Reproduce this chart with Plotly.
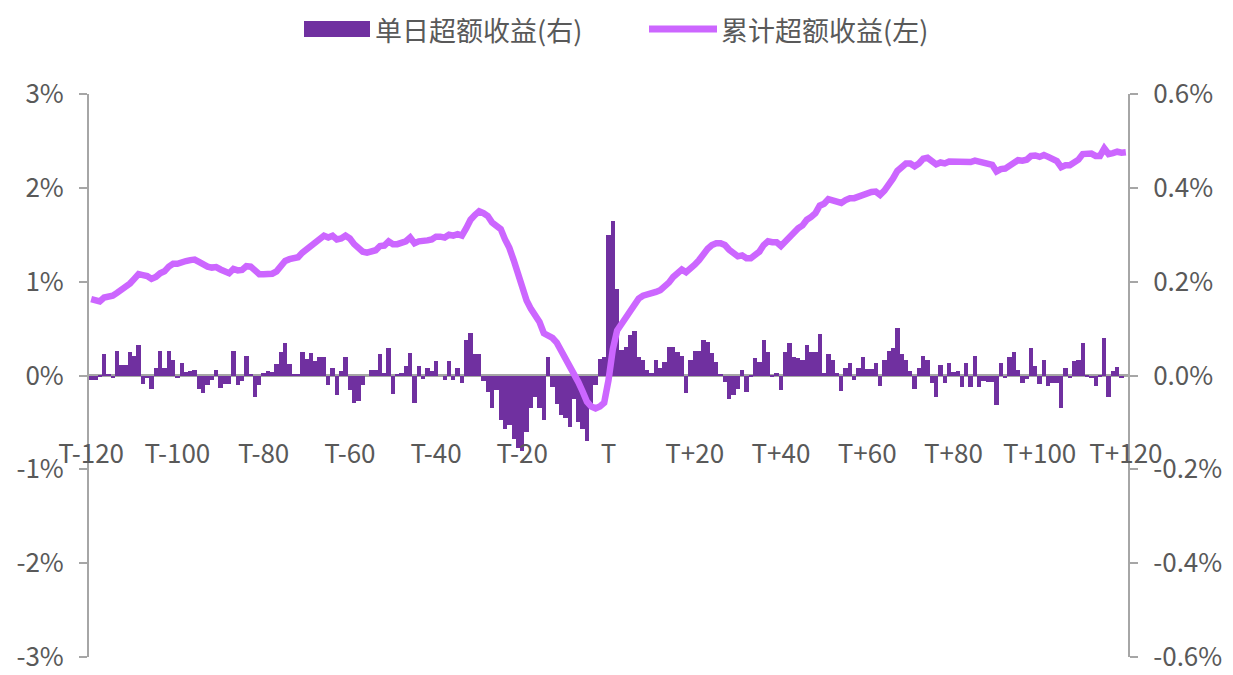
import plotly.graph_objects as go

# ---- data (percent units) ----
days = list(range(-120, 121))

daily_excess = [
    -0.009, -0.009, -0.002, 0.045, 0.002, -0.005, 0.053, 0.022, 0.023, 0.05,
    0.041, 0.065, -0.019, -0.006, -0.028, 0.015, 0.052, 0.015, 0.052, 0.033,
    -0.006, 0.026, 0.008, 0.01, 0.011, -0.028, -0.038, -0.02, -0.01, 0.011,
    -0.026, -0.018, -0.018, 0.052, -0.02, -0.012, 0.042, 0.003, -0.045, -0.02,
    0.005, 0.01, 0.008, 0.025, 0.05, 0.07, 0.025, 0.003, 0.003, 0.05,
    0.035, 0.047, 0.03, 0.04, 0.04, -0.02, 0.017, -0.042, 0.01, 0.04,
    -0.03, -0.058, -0.055, -0.02, 0.0, 0.012, 0.012, 0.045, 0.005, 0.058,
    -0.04, 0.003, 0.005, 0.02, 0.047, -0.058, 0.02, -0.008, 0.015, 0.01,
    0.03, 0.0, -0.009, 0.03, -0.01, 0.015, -0.016, 0.075, 0.09, 0.045,
    0.045, -0.012, -0.035, -0.07, -0.03, -0.095, -0.115, -0.105, -0.135, -0.155,
    -0.16, -0.12, -0.07, -0.045, -0.07, -0.095, 0.04, -0.025, -0.06, -0.085,
    -0.09, -0.11, -0.05, -0.1, -0.115, -0.14, -0.06, -0.02, 0.035, 0.04,
    0.30, 0.33, 0.185, 0.055, 0.061, 0.086, 0.095, 0.04, 0.033, 0.011,
    0.006, 0.033, 0.015, 0.029, 0.06, 0.061, 0.05, 0.041, -0.038, 0.033,
    0.053, 0.053, 0.075, 0.072, 0.047, 0.029, 0.002, -0.013, -0.051, -0.042,
    -0.028, 0.011, -0.035, -0.004, 0.038, 0.029, 0.075, 0.05, -0.004, 0.005,
    -0.03, 0.051, 0.07, 0.04, 0.038, 0.033, 0.066, 0.051, 0.051, 0.088,
    0.005, 0.046, 0.033, 0.005, -0.034, 0.017, 0.026, -0.01, 0.015, 0.039,
    0.013, 0.013, 0.026, -0.022, 0.034, 0.052, 0.058, 0.102, 0.045, 0.034,
    0.01, -0.029, 0.015, 0.042, 0.033, -0.017, -0.045, 0.022, -0.017, 0.026,
    0.008, 0.01, -0.025, 0.026, -0.025, 0.042, -0.025, -0.011, -0.013, -0.013,
    -0.063, 0.026, -0.006, 0.04, 0.05, 0.012, -0.015, -0.008, 0.059, 0.02,
    -0.018, 0.033, -0.022, -0.017, -0.017, -0.069, 0.015, -0.006, 0.03, 0.033,
    0.07, -0.003, -0.006, -0.022, -0.003, 0.079, -0.045, 0.01, 0.019, -0.006,
    0.0,
]

cumulative_excess = [
    0.815, 0.80, 0.79, 0.83, 0.84, 0.85, 0.88, 0.91, 0.93, 0.98,
    1.03, 1.08, 1.07, 1.06, 1.03, 1.05, 1.09, 1.11, 1.16, 1.19,
    1.19, 1.21, 1.22, 1.23, 1.235, 1.21, 1.18, 1.16, 1.15, 1.155,
    1.13, 1.11, 1.09, 1.135, 1.12, 1.125, 1.165, 1.16, 1.11, 1.08,
    1.08, 1.08, 1.085, 1.11, 1.16, 1.22, 1.24, 1.25, 1.26, 1.31,
    1.35, 1.39, 1.42, 1.46, 1.49, 1.47, 1.49, 1.45, 1.46, 1.49,
    1.46, 1.40, 1.35, 1.32, 1.31, 1.32, 1.335, 1.38, 1.385, 1.43,
    1.40, 1.40, 1.41, 1.43, 1.47, 1.41, 1.43, 1.43, 1.44, 1.45,
    1.48, 1.48, 1.47, 1.50, 1.49, 1.505, 1.49, 1.57, 1.66, 1.71,
    1.75, 1.73, 1.70, 1.63, 1.60, 1.56, 1.45, 1.36, 1.23, 1.08,
    0.93, 0.80, 0.71, 0.64, 0.57, 0.45, 0.43, 0.40, 0.35, 0.27,
    0.19, 0.08, 0.03, -0.07, -0.17, -0.28, -0.33, -0.35, -0.33, -0.29,
    -0.05, 0.28, 0.48, 0.55, 0.62, 0.70, 0.78, 0.82, 0.85, 0.86,
    0.87, 0.89, 0.91, 0.94, 0.99, 1.05, 1.09, 1.13, 1.10, 1.13,
    1.18, 1.23, 1.30, 1.35, 1.39, 1.41, 1.41, 1.39, 1.34, 1.30,
    1.27, 1.28, 1.25, 1.25, 1.29, 1.32, 1.39, 1.43, 1.42, 1.42,
    1.38, 1.43, 1.48, 1.53, 1.57, 1.60, 1.66, 1.69, 1.73, 1.81,
    1.83, 1.88, 1.87, 1.85, 1.84, 1.87, 1.89, 1.89, 1.91, 1.93,
    1.94, 1.955, 1.96, 1.925, 1.97, 2.03, 2.10, 2.18, 2.23, 2.26,
    2.26, 2.23, 2.26, 2.31, 2.32, 2.28, 2.25, 2.27, 2.26, 2.28,
    2.28, 2.27, 2.265, 2.28, 2.275, 2.29, 2.275, 2.27, 2.26, 2.245,
    2.175, 2.20, 2.205, 2.24, 2.28, 2.295, 2.29, 2.30, 2.34, 2.345,
    2.33, 2.35, 2.33, 2.30, 2.285, 2.22, 2.24, 2.24, 2.27, 2.30,
    2.36, 2.37, 2.365, 2.34, 2.34, 2.42, 2.36, 2.37, 2.385, 2.375,
    2.38,
]

x_tick_vals = [-120, -100, -80, -60, -40, -20, 0, 20, 40, 60, 80, 100, 120]
x_tick_text = ["T-120", "T-100", "T-80", "T-60", "T-40", "T-20", "T",
               "T+20", "T+40", "T+60", "T+80", "T+100", "T+120"]
left_tick_vals = [-3, -2, -1, 0, 1, 2, 3]
left_tick_text = ["-3%", "-2%", "-1%", "0%", "1%", "2%", "3%"]
right_tick_vals = [-0.6, -0.4, -0.2, 0.0, 0.2, 0.4, 0.6]
right_tick_text = ["-0.6%", "-0.4%", "-0.2%", "0.0%", "0.2%", "0.4%", "0.6%"]

bar_name = "单日超额收益(右)"
line_name = "累计超额收益(左)"

BAR_COLOR = "#7030A0"
LINE_COLOR = "#CC66FF"
AXIS_COLOR = "#A6A6A6"
TEXT_COLOR = "#595959"
FONT = "Noto Sans CJK SC"

fig = go.Figure()
fig.add_trace(go.Bar(x=days, y=daily_excess, name=bar_name, marker_color=BAR_COLOR,
                     marker_line_width=0, yaxis="y", showlegend=False))
fig.add_trace(go.Scatter(x=days, y=cumulative_excess, name=line_name, mode="lines",
                         line=dict(color=LINE_COLOR, width=6.5), yaxis="y2",
                         showlegend=False))

W, H = 1233, 675
OFF = 8  # page offset of the figure inside the browser
L, R, T, B = 89 - OFF, 1128 - OFF, 94 - OFF, 657 - OFF


def px_x(p):
    return (p - OFF - L) / (R - L)


def px_y(p):
    return (B - (p - OFF)) / (B - T)


shapes = [
    dict(type="rect", xref="paper", yref="paper", x0=px_x(304), x1=px_x(370),
         y0=px_y(37), y1=px_y(21), fillcolor=BAR_COLOR, line_width=0),
    dict(type="line", xref="paper", yref="paper", x0=px_x(649), x1=px_x(717),
         y0=px_y(29), y1=px_y(29), line=dict(color=LINE_COLOR, width=7)),
]
annotations = [
    dict(text=bar_name, xref="paper", yref="paper", x=px_x(373), y=px_y(29),
         xanchor="left", yanchor="middle", showarrow=False,
         font=dict(size=27, color=TEXT_COLOR, family=FONT)),
    dict(text=line_name, xref="paper", yref="paper", x=px_x(719), y=px_y(29),
         xanchor="left", yanchor="middle", showarrow=False,
         font=dict(size=27, color=TEXT_COLOR, family=FONT)),
]

TICK_FONT = dict(size=26, color=TEXT_COLOR, family=FONT)

fig.update_layout(
    width=W, height=H,
    margin=dict(l=L, r=W - R, t=T, b=H - B, autoexpand=False),
    paper_bgcolor="white", plot_bgcolor="white",
    bargap=0,
    font=dict(family=FONT, color=TEXT_COLOR, size=20),
    shapes=shapes, annotations=annotations,
    xaxis=dict(range=[-120.5, 120.5], tickvals=x_tick_vals, ticktext=x_tick_text,
               showgrid=False, showline=False, zeroline=False, ticks="",
               anchor="free", position=px_y(436), automargin=False,
               tickfont=TICK_FONT),
    yaxis=dict(side="right", range=[-0.6, 0.6], tickvals=right_tick_vals,
               ticktext=right_tick_text, showgrid=False, zeroline=True,
               zerolinecolor=AXIS_COLOR, zerolinewidth=3,
               showline=True, linecolor=AXIS_COLOR, linewidth=2,
               ticks="outside", ticklen=8, tickwidth=2, tickcolor=AXIS_COLOR,
               ticklabelstandoff=10, tickfont=TICK_FONT, automargin=False),
    yaxis2=dict(side="left", overlaying="y", range=[-3, 3], tickvals=left_tick_vals,
                ticktext=left_tick_text, showgrid=False, zeroline=False,
                showline=True, linecolor=AXIS_COLOR, linewidth=2,
                ticks="outside", ticklen=8, tickwidth=2, tickcolor=AXIS_COLOR,
                ticklabelstandoff=10, tickfont=TICK_FONT, automargin=False),
)

fig.write_html("out.html")
